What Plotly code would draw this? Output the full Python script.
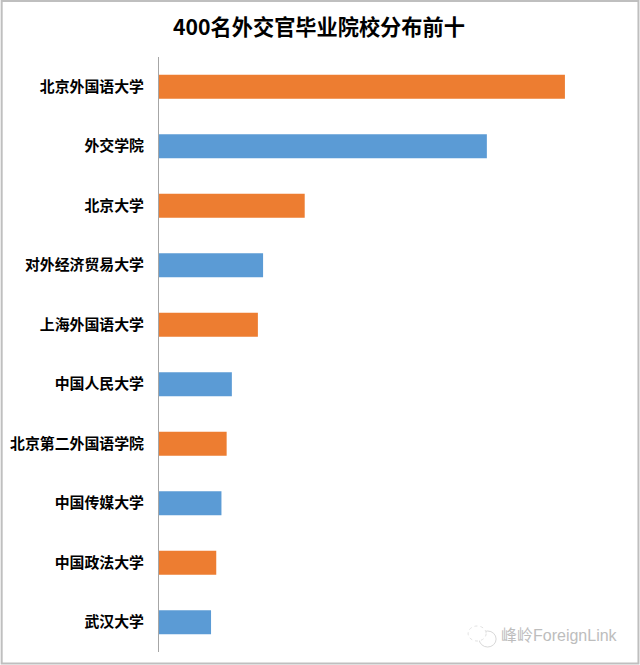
import plotly.graph_objects as go

categories = ["北京外国语大学", "外交学院", "北京大学", "对外经济贸易大学", "上海外国语大学",
              "中国人民大学", "北京第二外国语学院", "中国传媒大学", "中国政法大学", "武汉大学"]
counts = [78, 63, 28, 20, 19, 14, 13, 12, 11, 10]
orange = "#ED7D31"
blue = "#5B9BD5"
bar_colors = [orange, blue] * 5
title = "400名外交官毕业院校分布前十"
watermark = "峰岭ForeignLink"

W, H = 640, 665
L, R, T, B = 158.5, 600, 57, 652
FONT = "Noto Sans CJK SC"

fig = go.Figure(go.Bar(
    y=categories, x=counts, orientation="h", width=0.4,
    marker=dict(color=bar_colors, line=dict(width=0)),
))


def px(x):
    return (x - L) / (R - L)


def py(y):
    return (B - y) / (B - T)


shapes = [
    dict(type="rect", xref="paper", yref="paper", x0=px(1), x1=px(638.5), y0=py(663.5), y1=py(1),
         line=dict(color="#BFBFBF", width=2), fillcolor="rgba(0,0,0,0)", layer="above"),
    dict(type="circle", xref="paper", yref="paper", x0=px(479), x1=px(496), y0=py(647), y1=py(631),
         line=dict(color="#D8D8D8", width=1), fillcolor="rgba(0,0,0,0)"),
    dict(type="circle", xref="paper", yref="paper", x0=px(468), x1=px(486), y0=py(641), y1=py(626),
         line=dict(color="#E2E2E2", width=1, dash="dot"), fillcolor="white"),
]

fig.update_layout(
    width=W, height=H, autosize=False,
    paper_bgcolor="white", plot_bgcolor="white",
    margin=dict(l=L, r=W - R, t=T, b=H - B, pad=0),
    showlegend=False, bargap=0.6,
    font=dict(family=FONT, color="#000000"),
    title=dict(text="<b>" + title + "</b>", x=319 / W, xanchor="center", y=1 - 28 / H, yanchor="middle",
               automargin=False,
               font=dict(size=21.2, family=FONT, color="#000000")),
    xaxis=dict(range=[0, (R - L) / 5.21], visible=False, fixedrange=True, automargin=False),
    yaxis=dict(autorange="reversed", showgrid=False, zeroline=False, showticklabels=True,
               ticks="", showline=True, linecolor="#A6A6A6", linewidth=1, automargin=False,
               ticklabelstandoff=11,
               tickfont=dict(size=14.9, family=FONT, color="#000000", weight="bold"), fixedrange=True),
    shapes=shapes,
    annotations=[dict(text=watermark, xref="paper", yref="paper", x=px(620), y=py(635),
                      xanchor="right", yanchor="middle", showarrow=False,
                      font=dict(size=16, family="Liberation Sans, " + FONT, color="#BDBDBD"))],
)
fig.write_html("out.html", post_script="document.body.style.margin='0';",
               config={"displayModeBar": False})
